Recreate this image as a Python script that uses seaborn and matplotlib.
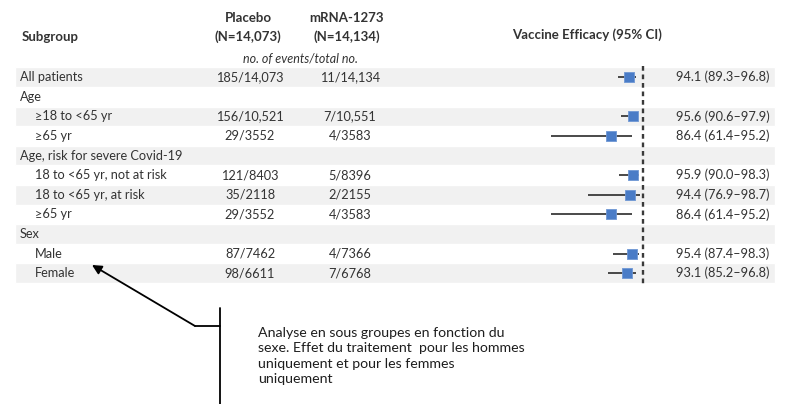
import matplotlib
matplotlib.use("Agg")
import matplotlib.pyplot as plt
import numpy as np
import pandas as pd
import seaborn as sns

# Data
subgroups = ["All patients", "Age", "\u226518 to <65 yr", "\u226565 yr",
             "Age, risk for severe Covid-19", "18 to <65 yr, not at risk",
             "18 to <65 yr, at risk", "\u226565 yr", "Sex", "Male", "Female"]
indented = [0, 0, 1, 1, 0, 1, 1, 1, 0, 1, 1]
placebo = ["185/14,073", "", "156/10,521", "29/3552", "", "121/8403",
           "35/2118", "29/3552", "", "87/7462", "98/6611"]
mrna = ["11/14,134", "", "7/10,551", "4/3583", "", "5/8396",
        "2/2155", "4/3583", "", "4/7366", "7/6768"]
efficacy = [94.1, np.nan, 95.6, 86.4, np.nan, 95.9, 94.4, 86.4, np.nan, 95.4, 93.1]
ci_low = [89.3, np.nan, 90.6, 61.4, np.nan, 90.0, 76.9, 61.4, np.nan, 87.4, 85.2]
ci_high = [96.8, np.nan, 97.9, 95.2, np.nan, 98.3, 98.7, 95.2, np.nan, 98.3, 96.8]

note = ("Analyse en sous groupes en fonction du\n"
        "sexe. Effet du traitement  pour les hommes\n"
        "uniquement et pour les femmes\n"
        "uniquement")

W, H = 787, 404
row0, row_h = 77.2, 19.6

df = pd.DataFrame({"subgroup": subgroups, "indent": indented,
                   "placebo": placebo, "mrna": mrna,
                   "eff": efficacy, "lo": ci_low, "hi": ci_high})
df["y"] = row0 + np.arange(len(df)) * row_h

sns.set_style("white")
plt.rcParams["font.family"] = ["Lato", "DejaVu Sans"]

fig = plt.figure(figsize=(W / 100, H / 100), dpi=100)
ax = fig.add_axes([0, 0, 1, 1])
ax.set_xlim(0, W)
ax.set_ylim(H, 0)
ax.axis("off")

txt = "#333333"
fs = 9.2

# alternating bands
shade = df.iloc[::2]
ax.barh(shade["y"], 760, left=15, height=row_h, color="#f1f1f1", zorder=0)

# headers
ax.text(22, 37, "Subgroup", fontsize=9.5, fontweight="bold", color=txt, va="center")
ax.text(248, 18, "Placebo", fontsize=9.5, fontweight="bold", color=txt, ha="center", va="center")
ax.text(248, 37, "(N=14,073)", fontsize=9.5, fontweight="bold", color=txt, ha="center", va="center")
ax.text(347, 18, "mRNA-1273", fontsize=9.5, fontweight="bold", color=txt, ha="center", va="center")
ax.text(347, 37, "(N=14,134)", fontsize=9.5, fontweight="bold", color=txt, ha="center", va="center")
ax.text(300, 59, "no. of events/total no.", fontsize=9, style="italic", color=txt, ha="center", va="center")
ax.text(587, 35, "Vaccine Efficacy (95% CI)", fontsize=9.5, fontweight="bold", color=txt, ha="center", va="center")

# table rows
for _, r in df.iterrows():
    ax.text(35 if r["indent"] else 20, r["y"], r["subgroup"], fontsize=fs, color=txt, va="center")
    ax.text(250, r["y"], r["placebo"], fontsize=fs, color=txt, ha="center", va="center")
    ax.text(350, r["y"], r["mrna"], fontsize=fs, color=txt, ha="center", va="center")
    if not np.isnan(r["eff"]):
        ax.text(676, r["y"], f"{r['eff']:.1f} ({r['lo']:.1f}\u2013{r['hi']:.1f})",
                fontsize=fs, color=txt, va="center")

# forest plot axes
px100, ppu = 643.3, 2.4
x_left, x_right = 520, 665
fax = fig.add_axes([x_left / W, 0, (x_right - x_left) / W, 1])
fax.set_xlim(100 - (px100 - x_left) / ppu, 100 + (x_right - px100) / ppu)
fax.set_ylim(H, 0)
fax.axis("off")
fax.patch.set_alpha(0)

pts = df.dropna()
fax.hlines(pts["y"], pts["lo"], pts["hi"], color="#3a3a3a", lw=1.3, zorder=2)
sns.scatterplot(data=pts, x="eff", y="y", marker="s", s=60, color="#4a7cc7",
                edgecolor="#6f97d4", linewidth=0.6, zorder=3, ax=fax, legend=False)
fax.vlines(100, 66, 284, color="#3a3a3a", lw=1.7, linestyles=(0, (2, 1.6)), zorder=1)
fax.set_xlabel("")
fax.set_ylabel("")

# callout
ax.annotate("", xy=(92, 265), xytext=(195, 326),
            arrowprops=dict(arrowstyle="-|>", color="black", lw=1.3, mutation_scale=14,
                            shrinkA=0, shrinkB=0))
ax.plot([195, 220], [326, 326], color="black", lw=1.3)
ax.plot([220, 220], [308, 404], color="black", lw=1.3)
ax.text(258, 356, note, fontsize=10.2, color="#1e1e1e", va="center", ha="left", linespacing=1.32)

fig.savefig("out.png", dpi=100)
